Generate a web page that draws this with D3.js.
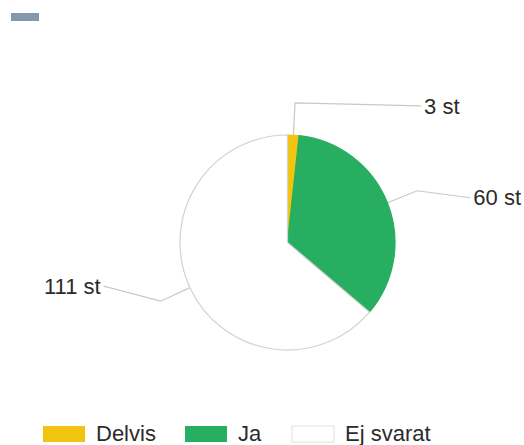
<!DOCTYPE html>
<html>
<head>
<meta charset="utf-8">
<script src="https://cdn.jsdelivr.net/npm/d3@7"></script>
<style>
  html, body { margin: 0; padding: 0; background: #ffffff; }
  svg { display: block; }
  text { font-family: "Liberation Sans", Arial, sans-serif; }
</style>
</head>
<body>
<svg id="chart" width="524" height="445"></svg>
<script>
// chart data
const categories = ['Delvis', 'Ja', 'Ej svarat']
const counts = [3, 60, 111]
const colors = ['#f1c40f', '#27ae60', '#ffffff']
const unit = 'st'

// where each leader line ends (layout, relative to its elbow)
const leaderEnds = [[126, 3], [53, 7], [-57, -15]]

let svg = d3.select('#chart')
let cx = 287.5, cy = 242.5, r = 107.5
let fontSize = 22

// small header mark top left
svg.append('rect')
  .attr('x', 11).attr('y', 13).attr('width', 28).attr('height', 8)
  .attr('fill', '#8499ae')

let data = categories.map((c, i) => ({ name: c, value: counts[i], color: colors[i] }))

let pie = d3.pie().sort(null).value(d => d.value)
let arcs = pie(data)
let arc = d3.arc().innerRadius(0).outerRadius(r)
let elbowArc = d3.arc().innerRadius(r * 1.3).outerRadius(r * 1.3)
let edgeArc = d3.arc().innerRadius(r).outerRadius(r)

let g = svg.append('g').attr('transform', `translate(${cx},${cy})`)

// leader lines first, under slices
arcs.forEach(function (a, i) {
  let p0 = edgeArc.centroid(a)
  let p1 = elbowArc.centroid(a)
  let p2 = [p1[0] + leaderEnds[i][0], p1[1] + leaderEnds[i][1]]
  g.append('polyline')
    .attr('points', [p0, p1, p2].map(p => p.join(',')).join(' '))
    .attr('fill', 'none')
    .attr('stroke', '#c8c8c8')
    .attr('stroke-width', 1.2)
  let right = p2[0] > 0
  g.append('text')
    .attr('x', p2[0] + (right ? 3 : -3))
    .attr('y', p2[1])
    .attr('dy', '0.35em')
    .attr('text-anchor', right ? 'start' : 'end')
    .attr('font-size', fontSize)
    .attr('fill', '#2b2b2b')
    .text(`${a.data.value} ${unit}`)
})

g.selectAll('path.slice')
  .data(arcs)
  .join('path')
  .attr('class', 'slice')
  .attr('d', arc)
  .attr('fill', d => d.data.color)
  .attr('stroke', d => d.data.color === '#ffffff' ? '#d2d2d2' : d.data.color)
  .attr('stroke-width', 1.2)

// legend
let legendX = [43, 185, 292]
let legend = svg.append('g')
data.forEach(function (d, i) {
  legend.append('rect')
    .attr('x', legendX[i]).attr('y', 426)
    .attr('width', 42).attr('height', 16)
    .attr('fill', d.color)
    .attr('stroke', d.color === '#ffffff' ? '#e2e2e2' : 'none')
  legend.append('text')
    .attr('x', legendX[i] + 53)
    .attr('y', 433)
    .attr('dy', '0.35em')
    .attr('font-size', fontSize)
    .attr('fill', '#2b2b2b')
    .text(d.name)
})
</script>
</body>
</html>
